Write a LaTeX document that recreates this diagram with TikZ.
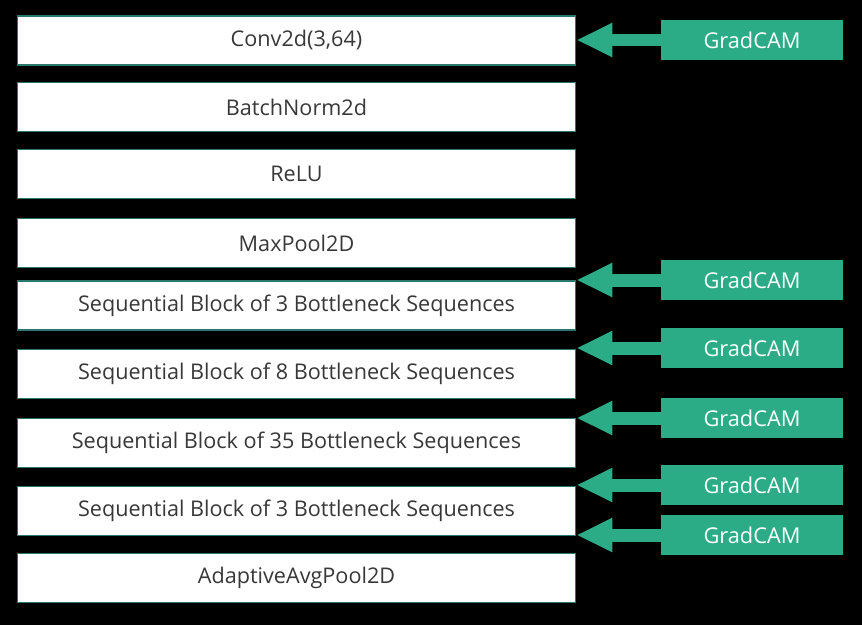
\documentclass[tikz,border=0pt]{standalone}
\usepackage{fontspec}
\setmainfont{Open Sans}
\usetikzlibrary{arrows.meta}
\definecolor{camgreen}{RGB}{44,172,134}
\definecolor{layeredge}{RGB}{40,120,110}
\definecolor{layertext}{RGB}{56,56,56}

\begin{document}
\begin{tikzpicture}[x=0.02cm,y=-0.02cm,
  layer/.style={draw=layeredge,line width=0.6pt,fill=white,text=layertext,minimum width=11.18cm,minimum height=0.98cm,inner sep=0pt,font=\fontsize{12.3}{14}\selectfont},
  gradcam/.style={fill=camgreen,text=white,minimum width=3.64cm,minimum height=0.8cm,inner sep=0pt,font=\fontsize{12.4}{14}\selectfont},
  hook/.style={camgreen,line width=0.26cm,-{Triangle[length=0.72cm,width=0.64cm]}}]
\fill[black] (0,0) rectangle (862,625);
\useasboundingbox (0,0) rectangle (862,625);
    \node[layer] (conv) at (296.5,40.5){Conv2d(3,64)};
    \node[layer] (bn) at (296.5,107){BatchNorm2d};
    \node[layer] (relu) at (296.5,174){ReLU};
    \node[layer] (pool) at (296.5,243){MaxPool2D};
    \node[layer] (seqa) at (296.5,305.5){Sequential Block of 3 Bottleneck Sequences};
    \node[layer] (seqb) at (296.5,374){Sequential Block of 8 Bottleneck Sequences};
    \node[layer] (seqc) at (296.5,443){Sequential Block of 35 Bottleneck Sequences};
    \node[layer] (seqd) at (296.5,511){Sequential Block of 3 Bottleneck Sequences};
    \node[layer] (avg) at (296.5,578){AdaptiveAvgPool2D};
    \node[gradcam] (cam1) at (752,40){GradCAM};
    \node[gradcam] (cam2) at (752,280){GradCAM};
    \node[gradcam] (cam3) at (752,348){GradCAM};
    \node[gradcam] (cam4) at (752,418){GradCAM};
    \node[gradcam] (cam5) at (752,485){GradCAM};
    \node[gradcam] (cam6) at (752,535){GradCAM};
    \draw[hook] (cam1.west) -- (cam1.west -| conv.east);
    \draw[hook] (cam2.west) -- (cam2.west -| seqa.east);
    \draw[hook] (cam3.west) -- (cam3.west -| seqb.east);
    \draw[hook] (cam4.west) -- (cam4.west -| seqc.east);
    \draw[hook] (cam5.west) -- (cam5.west -| seqd.east);
    \draw[hook] (cam6.west) -- (cam6.west -| seqd.east);
\end{tikzpicture}
\end{document}
